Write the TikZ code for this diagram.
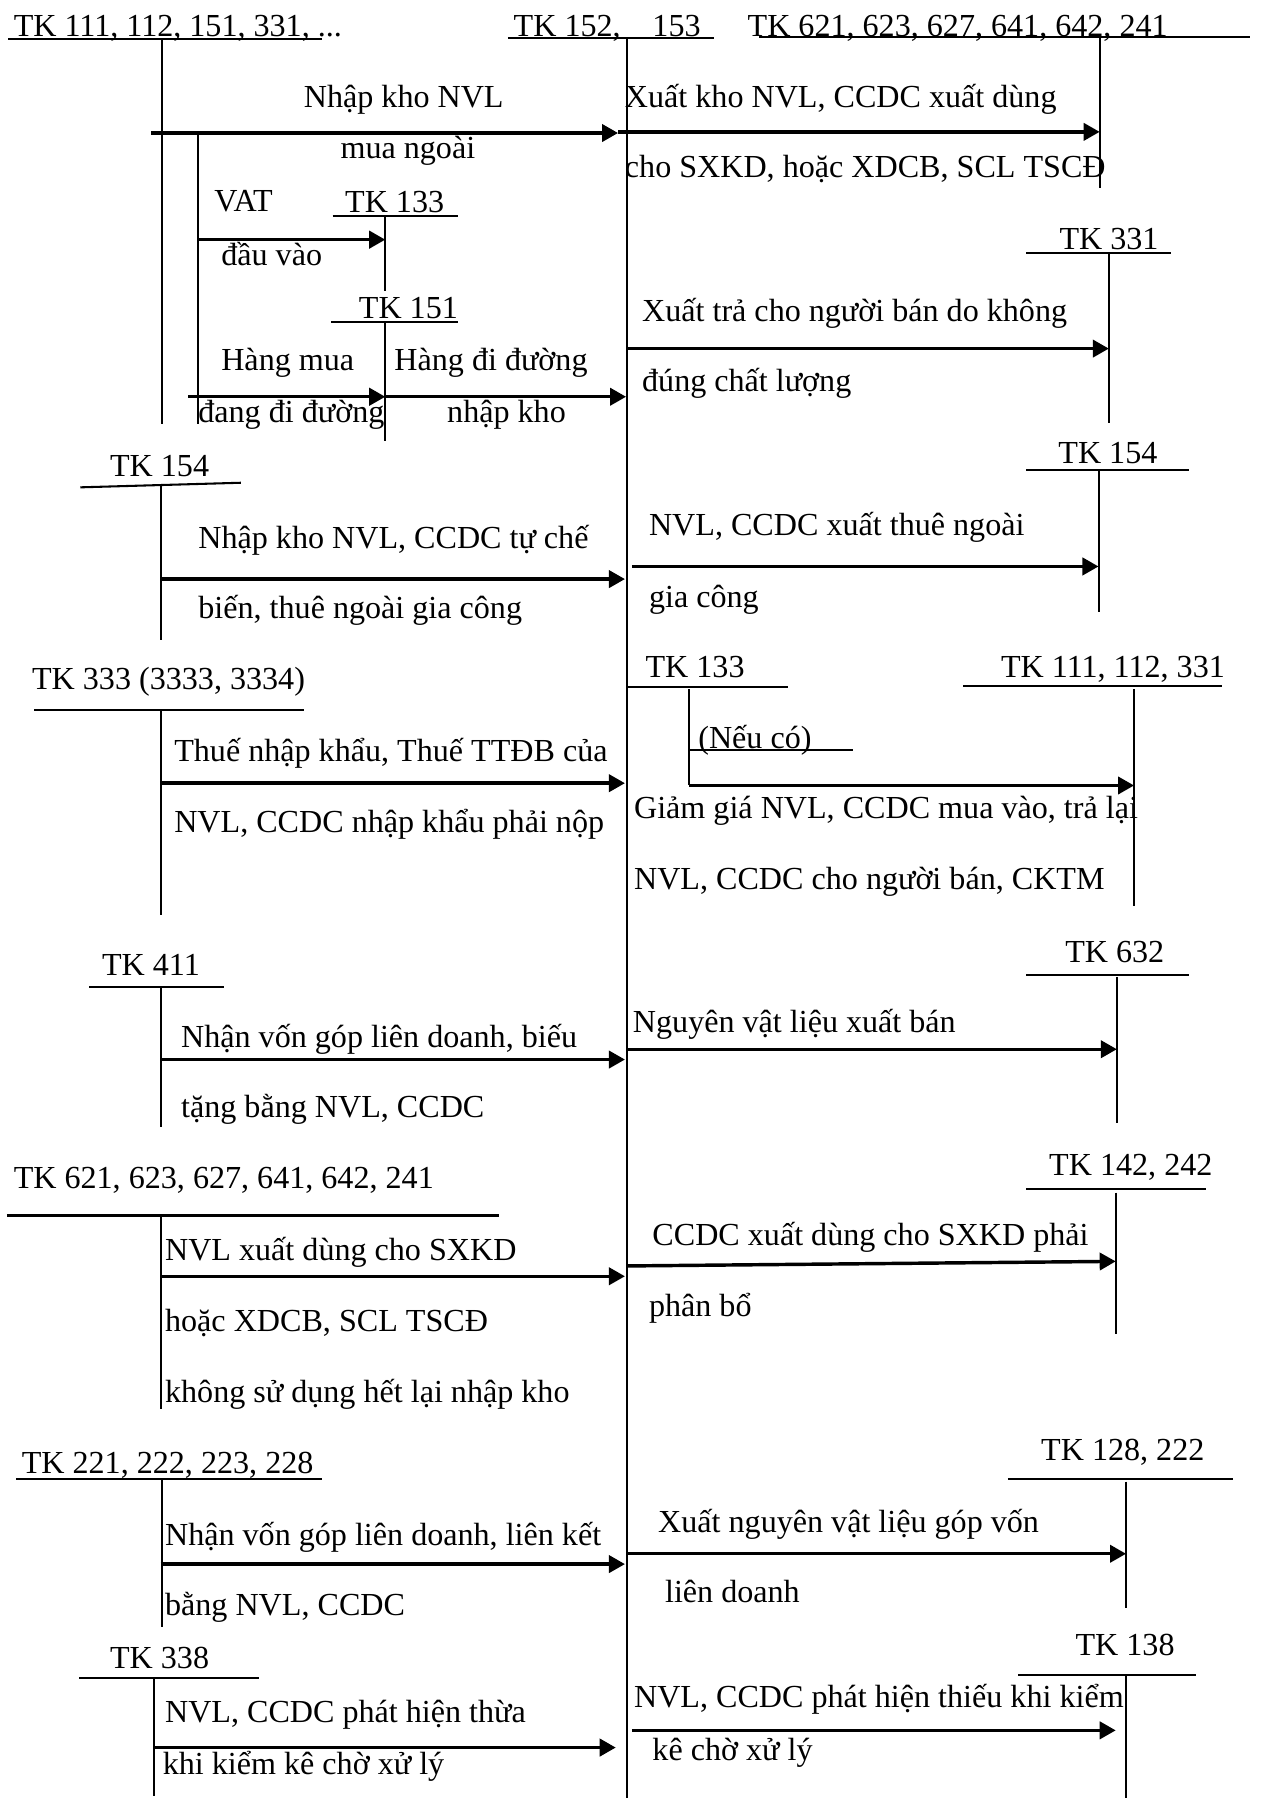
\documentclass[tikz,border=0pt]{standalone}
\usepackage{fontspec}
\setmainfont{Liberation Serif}
\usetikzlibrary{arrows.meta}

\begin{document}
\begin{tikzpicture}[
      x=0.5pt, y=-0.5pt,
      font=\fontsize{14}{17}\selectfont,
      lbl/.style={anchor=base west, inner sep=0pt, outer sep=0pt, yshift=-0.7pt},
      tk/.style={line width=0.9pt},
      flow/.style={-{Triangle[length=7pt,width=7.5pt]}, line width=1.5pt},
    ]
    \useasboundingbox (0,0) rectangle (1101,1568);

    % T-account lines
    \draw[tk] (7,34) -- (281,34);      \draw[tk] (141,34) -- (141,370);
    \draw[tk] (173,116) -- (173,370);
    \draw[tk] (443,33) -- (623,33);    \draw[tk] (547,33) -- (547,1568);
    \draw[tk] (662,32) -- (1090,32);   \draw[tk] (959,32) -- (959,164);
    \draw[tk] (290,188) -- (399,188);  \draw[tk] (336,188) -- (336,254);
    \draw[tk] (289,281) -- (399,281);  \draw[tk] (336,281) -- (336,385);
    \draw[tk] (895,221) -- (1021,221); \draw[tk] (967,221) -- (967,369);
    \draw[tk] (70,425) -- (210,421);   \draw[tk] (140,422) -- (140,558);
    \draw[tk] (895,410) -- (1037,410); \draw[tk] (958,410) -- (958,534);
    \draw[tk] (30,619) -- (265,619);   \draw[tk] (140,619) -- (140,798);
    \draw[tk] (546,599) -- (687,599);  \draw[tk] (601,601) -- (601,685);
    \draw[tk] (601,654) -- (744,654);
    \draw[tk] (840,598) -- (1066,598); \draw[tk] (989,601) -- (989,790);
    \draw[tk] (78,861) -- (195,861);   \draw[tk] (140,861) -- (140,983);
    \draw[tk] (895,850) -- (1037,850); \draw[tk] (974,852) -- (974,979);
    \draw[tk] (6,1060) -- (435,1060);  \draw[tk] (140,1060) -- (140,1229);
    \draw[tk] (895,1037) -- (1052,1037); \draw[tk] (973,1040) -- (973,1163);
    \draw[tk] (14,1290) -- (281,1290); \draw[tk] (141,1290) -- (141,1419);
    \draw[tk] (879,1290) -- (1075,1290); \draw[tk] (982,1292) -- (982,1402);
    \draw[tk] (69,1463) -- (226,1463); \draw[tk] (134,1463) -- (134,1566);
    \draw[tk] (888,1461) -- (1043,1461); \draw[tk] (982,1461) -- (982,1568);

    % arrow ends
    \coordinate (nk1) at (132,116);  \coordinate (nk2) at (539,116);
    \coordinate (vat1) at (173,209); \coordinate (vat2) at (336,209);
    \coordinate (hm1) at (164,346);  \coordinate (hm2) at (336,346);
    \coordinate (hd2) at (546,346);
    \coordinate (xk1) at (539,115);  \coordinate (xk2) at (959,115);
    \coordinate (xt1) at (547,304);  \coordinate (xt2) at (967,304);
    \coordinate (tc1) at (140,505);  \coordinate (tc2) at (545,505);
    \coordinate (gc1) at (551,494);  \coordinate (gc2) at (958,494);
    \coordinate (tn1) at (140,683);  \coordinate (tn2) at (545,683);
    \coordinate (gg1) at (601,685);  \coordinate (gg2) at (989,685);
    \coordinate (vg1) at (140,924);  \coordinate (vg2) at (545,924);
    \coordinate (xb1) at (547,915);  \coordinate (xb2) at (974,915);
    \coordinate (sd1) at (140,1113); \coordinate (sd2) at (545,1113);
    \coordinate (pb1) at (547,1104); \coordinate (pb2) at (973,1100);
    \coordinate (lk1) at (140,1364); \coordinate (lk2) at (545,1364);
    \coordinate (gv1) at (547,1355); \coordinate (gv2) at (982,1355);
    \coordinate (th1) at (134,1524); \coordinate (th2) at (537,1524);
    \coordinate (ti1) at (551,1509); \coordinate (ti2) at (973,1509);

    \draw[flow] (nk1) -- (nk2);
    \draw[flow] (vat1) -- (vat2);
    \draw[flow] (hm1) -- (hm2);
    \draw[flow] (hm2) -- (hd2);
    \draw[flow] (xk1) -- (xk2);
    \draw[flow] (xt1) -- (xt2);
    \draw[flow] (tc1) -- (tc2);
    \draw[flow] (gc1) -- (gc2);
    \draw[flow] (tn1) -- (tn2);
    \draw[flow] (gg1) -- (gg2);
    \draw[flow] (vg1) -- (vg2);
    \draw[flow] (xb1) -- (xb2);
    \draw[flow] (sd1) -- (sd2);
    \draw[flow] (pb1) -- (pb2);
    \draw[flow] (lk1) -- (lk2);
    \draw[flow] (gv1) -- (gv2);
    \draw[flow] (th1) -- (th2);
    \draw[flow] (ti1) -- (ti2);

    % account names
    \node[lbl] (t111)  at (12,30)    {TK 111, 112, 151, 331, ...};
    \node[lbl] (t152)  at (448,30)   {TK 152,};
    \node[lbl] (t153)  at (569,30)   {153};
    \node[lbl] (t621)  at (652,30)   {TK 621, 623, 627, 641, 642, 241};
    \node[lbl] (t133a) at (301,184)  {TK 133};
    \node[lbl] (t151)  at (313,276)  {TK 151};
    \node[lbl] (t331)  at (924,216)  {TK 331};
    \node[lbl] (t154l) at (96,414)   {TK 154};
    \node[lbl] (t154r) at (923,403)  {TK 154};
    \node[lbl] (t333)  at (28,600)   {TK 333 (3333, 3334)};
    \node[lbl] (t133b) at (563,589)  {TK 133};
    \node[lbl] (t111r) at (873,589)  {TK 111, 112, 331};
    \node[lbl] (t411)  at (89,849)   {TK 411};
    \node[lbl] (t632)  at (929,838)  {TK 632};
    \node[lbl] (t621l) at (12,1035)  {TK 621, 623, 627, 641, 642, 241};
    \node[lbl] (t142)  at (915,1024) {TK 142, 242};
    \node[lbl] (t221)  at (19,1284)  {TK 221, 222, 223, 228};
    \node[lbl] (t128)  at (908,1272) {TK 128, 222};
    \node[lbl] (t338)  at (96,1454)  {TK 338};
    \node[lbl] (t138)  at (938,1442) {TK 138};

    % entry texts
    \node[lbl] (l1a)  at (265,92)   {Nhập kho NVL};
    \node[lbl] (l1b)  at (297,137)  {mua ngoài};
    \node[lbl] (lvat) at (187,183)  {VAT};
    \node[lbl] (l2b)  at (193,230)  {đầu vào};
    \node[lbl] (l3a)  at (193,322)  {Hàng mua};
    \node[lbl] (l3b)  at (173,367)  {đang đi đường};
    \node[lbl] (l4a)  at (344,322)  {Hàng đi đường};
    \node[lbl] (l4b)  at (390,367)  {nhập kho};
    \node[lbl] (r1a)  at (545,92)   {Xuất kho NVL, CCDC xuất dùng};
    \node[lbl] (r1b)  at (545,153)  {cho SXKD, hoặc XDCB, SCL TSCĐ};
    \node[lbl] (r2a)  at (560,279)  {Xuất trả cho người bán do không};
    \node[lbl] (r2b)  at (560,340)  {đúng chất lượng};
    \node[lbl] (l5a)  at (173,477)  {Nhập kho NVL, CCDC tự chế};
    \node[lbl] (l5b)  at (173,538)  {biến, thuê ngoài gia công};
    \node[lbl] (r3a)  at (566,466)  {NVL, CCDC xuất thuê ngoài};
    \node[lbl] (r3b)  at (566,528)  {gia công};
    \node[lbl] (l6a)  at (152,663)  {Thuế nhập khẩu, Thuế TTĐB của};
    \node[lbl] (l6b)  at (152,725)  {NVL, CCDC nhập khẩu phải nộp};
    \node[lbl] (neu)  at (609,651)  {(Nếu có)};
    \node[lbl] (r4a)  at (553,712)  {Giảm giá NVL, CCDC mua vào, trả lại};
    \node[lbl] (r4b)  at (553,774)  {NVL, CCDC cho người bán, CKTM};
    \node[lbl] (l7a)  at (158,912)  {Nhận vốn góp liên doanh, biếu};
    \node[lbl] (l7b)  at (158,973)  {tặng bằng NVL, CCDC};
    \node[lbl] (r5a)  at (552,899)  {Nguyên vật liệu xuất bán};
    \node[lbl] (l8a)  at (144,1098) {NVL xuất dùng cho SXKD};
    \node[lbl] (l8b)  at (144,1160) {hoặc XDCB, SCL TSCĐ};
    \node[lbl] (l8c)  at (144,1222) {không sử dụng hết lại nhập kho};
    \node[lbl] (r6a)  at (569,1085) {CCDC xuất dùng cho SXKD phải};
    \node[lbl] (r6b)  at (566,1147) {phân bổ};
    \node[lbl] (l9a)  at (144,1346) {Nhận vốn góp liên doanh, liên kết};
    \node[lbl] (l9b)  at (144,1407) {bằng NVL, CCDC};
    \node[lbl] (r7a)  at (574,1335) {Xuất nguyên vật liệu góp vốn};
    \node[lbl] (r7b)  at (580,1396) {liên doanh};
    \node[lbl] (l10a) at (144,1501) {NVL, CCDC phát hiện thừa};
    \node[lbl] (l10b) at (142,1546) {khi kiểm kê chờ xử lý};
    \node[lbl] (r8a)  at (553,1488) {NVL, CCDC phát hiện thiếu khi kiểm};
    \node[lbl] (r8b)  at (569,1534) {kê chờ xử lý};
  \end{tikzpicture}
\end{document}
